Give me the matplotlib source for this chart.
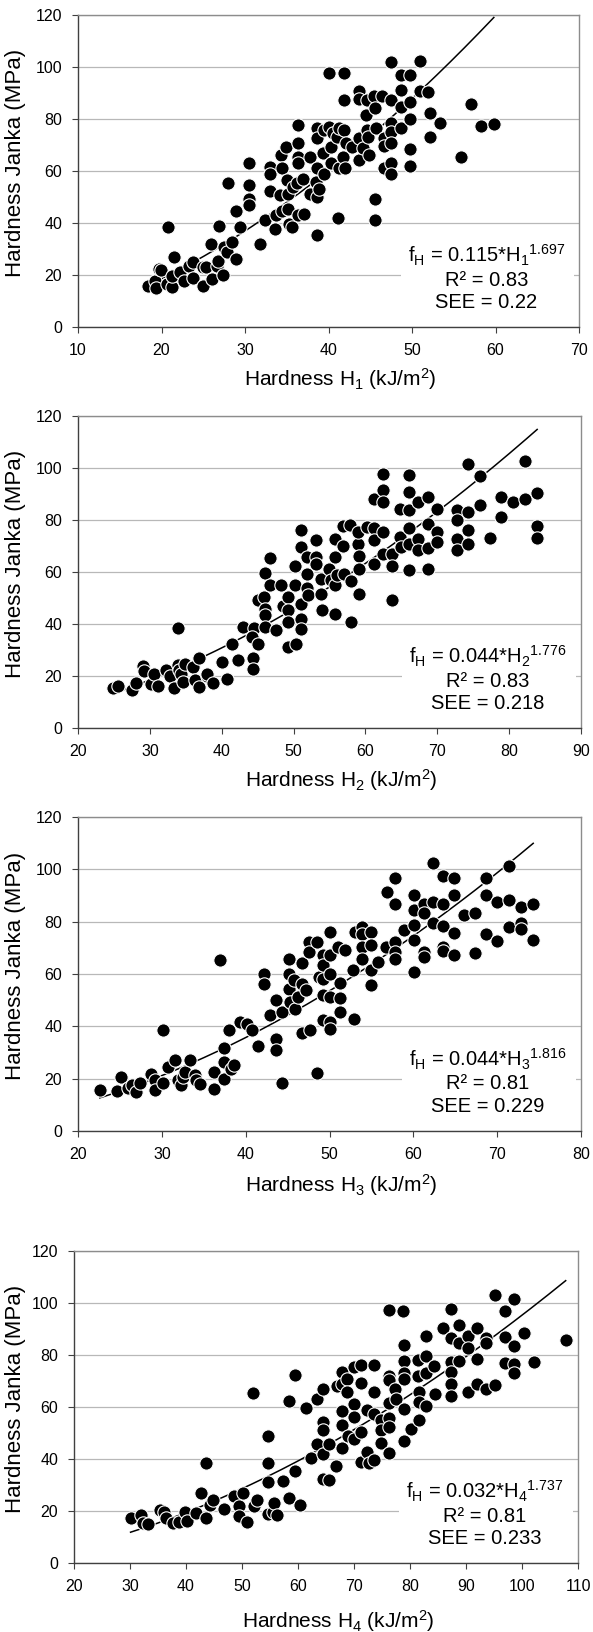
import numpy as np
import matplotlib.pyplot as plt
from matplotlib.patches import Rectangle

plt.rcParams['font.family'] = ['Liberation Sans', 'DejaVu Sans']
plt.rcParams['mathtext.fontset'] = 'custom'
plt.rcParams['mathtext.rm'] = 'Liberation Sans'
plt.rcParams['mathtext.it'] = 'Liberation Sans:italic'

# --- data ---
h1 = [18.4, 19.2, 19.7, 19.4, 19.9, 20.6, 20.8, 21.3, 21.5, 21.3, 22.2, 22.7, 23.3, 23.8, 23.8,
      25.0, 25.0, 25.3, 25.9, 26.0, 26.7, 26.8, 26.9, 27.4, 27.5, 27.8, 28.0, 28.4, 28.9, 28.9,
      29.4, 30.5, 30.5, 30.5, 30.5, 31.8, 32.4, 33.0, 33.0, 33.0, 33.6, 33.7, 34.2, 34.3, 34.4,
      34.4, 34.9, 35.0, 35.1, 35.1, 35.3, 35.6, 35.8, 36.2, 36.4, 36.4, 36.4, 36.4, 36.4, 36.9,
      37.1, 37.8, 37.8, 38.5, 38.6, 38.6, 38.6, 38.6, 38.6, 38.9, 39.4, 39.5, 39.5, 40.1, 40.1,
      40.3, 40.3, 40.5, 41.0, 41.1, 41.2, 41.2, 41.7, 41.9, 41.9, 41.9, 42.0, 42.1, 42.8, 43.7,
      43.7, 43.7, 43.7, 44.1, 44.5, 44.6, 44.6, 44.7, 44.8, 45.5, 45.6, 45.6, 45.6, 45.7, 46.4,
      46.6, 46.6, 46.6, 47.5, 47.5, 47.5, 47.5, 47.5, 47.5, 47.5, 48.7, 48.7, 48.7, 48.7, 49.8,
      49.8, 49.8, 49.8, 49.8, 50.9, 50.9, 51.9, 52.1, 52.1, 53.3, 55.9, 57.1, 58.3, 59.8]
j1 = [15.9, 17.8, 22.3, 15.0, 22.0, 16.5, 38.4, 15.2, 26.8, 19.7, 21.0, 17.8, 23.6, 24.9, 19.0,
      22.9, 15.9, 22.9, 32.0, 18.4, 23.6, 25.5, 38.7, 20.1, 30.7, 28.7, 55.2, 32.6, 26.2, 44.6,
      38.4, 62.9, 54.8, 49.4, 46.8, 32.0, 41.0, 61.6, 59.0, 52.3, 37.8, 42.9, 50.6, 66.1, 61.0,
      44.8, 69.3, 56.4, 51.3, 45.5, 39.7, 38.4, 53.9, 55.2, 77.7, 70.6, 65.5, 62.9, 42.9, 57.1,
      43.6, 65.5, 51.3, 55.8, 76.4, 72.6, 61.0, 50.0, 35.2, 53.2, 66.8, 59.0, 75.8, 97.7, 77.1,
      69.3, 62.9, 74.5, 73.2, 42.0, 76.4, 61.0, 65.5, 97.7, 87.4, 75.8, 61.0, 70.6, 69.3, 90.6,
      87.6, 72.6, 64.4, 68.7, 81.6, 87.4, 75.8, 73.2, 66.1, 88.9, 84.1, 49.4, 41.0, 76.4, 88.7,
      72.6, 69.6, 61.2, 101.8, 87.4, 78.4, 75.1, 70.9, 62.9, 59.0, 97.0, 91.2, 84.8, 76.4, 97.0,
      86.7, 79.9, 68.3, 61.9, 102.4, 90.6, 90.2, 82.2, 73.2, 78.4, 65.5, 85.8, 77.3, 78.1]

h2 = [24.9, 25.5, 27.5, 28.1, 29.1, 29.2, 30.1, 30.6, 31.2, 32.2, 32.8, 33.3, 33.9, 33.9, 34.1,
      34.3, 34.6, 34.9, 36.0, 36.3, 36.9, 36.9, 38.0, 38.0, 38.8, 40.1, 40.7, 41.5, 42.2, 42.9,
      44.4, 44.4, 44.5, 44.2, 45.1, 45.1, 45.9, 46.0, 46.0, 46.0, 46.0, 46.7, 46.7, 47.5, 48.3,
      48.5, 49.2, 49.2, 49.2, 49.2, 50.2, 50.2, 50.3, 51.0, 51.0, 51.0, 51.0, 51.0, 51.8, 51.8,
      51.8, 52.0, 53.1, 53.1, 53.1, 53.8, 53.8, 53.9, 54.9, 55.2, 55.8, 55.8, 55.8, 55.8, 56.1,
      56.9, 56.9, 57.0, 57.8, 58.0, 58.0, 58.9, 59.0, 59.1, 59.1, 59.1, 60.2, 61.2, 61.2, 61.2,
      61.2, 62.4, 62.4, 62.4, 62.4, 62.4, 63.7, 63.7, 63.7, 64.8, 64.8, 64.9, 66.0, 66.0, 66.0,
      66.0, 66.0, 66.0, 67.3, 67.3, 67.3, 68.7, 68.7, 68.7, 68.7, 69.9, 69.9, 69.9, 72.8, 72.8,
      72.8, 72.8, 74.3, 74.3, 74.3, 74.3, 75.9, 75.9, 77.4, 78.9, 78.9, 80.5, 82.2, 82.2, 83.9,
      83.9, 83.9]
j2 = [15.5, 16.2, 14.5, 17.3, 23.8, 21.9, 17.1, 20.6, 16.2, 22.2, 19.9, 15.5, 38.5, 24.1, 22.2,
      20.6, 17.7, 24.7, 23.5, 18.6, 27.1, 15.8, 19.9, 20.9, 17.3, 25.4, 19.0, 32.2, 26.3, 38.8,
      27.1, 22.8, 38.5, 35.0, 49.1, 32.2, 50.4, 59.7, 45.9, 43.3, 38.8, 65.5, 54.9, 37.6, 54.9,
      46.8, 50.4, 45.3, 40.8, 31.2, 54.9, 62.2, 32.2, 76.0, 69.6, 47.8, 42.1, 38.2, 65.8, 59.4,
      54.0, 51.0, 72.4, 65.8, 63.2, 57.4, 51.7, 45.3, 61.3, 56.8, 72.8, 65.8, 54.9, 43.7, 58.7,
      77.6, 69.9, 59.4, 77.9, 56.4, 40.8, 70.9, 75.4, 66.0, 61.3, 51.7, 77.3, 88.2, 77.1, 72.2,
      63.2, 97.6, 91.7, 86.9, 75.4, 67.1, 67.1, 62.3, 49.1, 84.4, 73.5, 69.6, 97.2, 90.8, 83.7,
      76.9, 70.9, 60.6, 86.9, 72.8, 68.3, 88.8, 78.6, 69.4, 61.3, 84.4, 75.4, 71.5, 83.7, 79.9,
      72.8, 68.3, 101.7, 83.1, 76.0, 70.9, 96.8, 85.6, 73.2, 88.8, 81.2, 87.0, 102.6, 88.0, 90.4,
      77.6, 73.1]

h3 = [22.6, 24.6, 25.1, 26.0, 26.4, 26.9, 27.4, 28.7, 29.2, 29.2, 30.1, 30.1, 30.7, 31.6, 31.9,
      32.3, 32.5, 32.8, 33.4, 33.9, 34.1, 34.6, 36.2, 36.2, 36.9, 37.4, 37.4, 37.4, 38.0, 38.2,
      38.6, 39.3, 40.2, 40.8, 41.5, 42.2, 42.2, 42.9, 43.6, 43.6, 43.6, 44.3, 44.3, 45.2, 45.2,
      45.2, 45.3, 45.8, 45.9, 46.3, 46.7, 46.7, 46.7, 47.2, 47.6, 47.6, 47.7, 48.5, 48.5, 48.8,
      49.2, 49.2, 49.2, 49.2, 49.2, 50.1, 50.1, 50.1, 50.1, 50.1, 50.1, 51.0, 51.2, 51.2, 51.2,
      51.9, 52.8, 52.9, 53.1, 53.9, 53.9, 53.9, 53.9, 54.9, 54.9, 54.9, 54.9, 55.8, 56.7, 56.8,
      57.8, 57.8, 57.8, 57.8, 57.8, 58.9, 60.1, 60.1, 60.1, 60.1, 60.1, 61.3, 61.3, 61.3, 61.3,
      62.4, 62.4, 62.4, 63.5, 63.5, 63.5, 63.5, 63.5, 64.8, 64.8, 64.8, 64.8, 66.1, 67.4, 67.4,
      68.7, 68.7, 68.7, 70.0, 70.0, 71.4, 71.4, 71.4, 72.8, 72.8, 72.8, 74.3, 74.3]
j3 = [15.5, 15.3, 20.6, 16.6, 17.5, 14.9, 18.3, 21.9, 19.4, 15.8, 18.3, 38.5, 24.5, 27.0, 19.6,
      17.5, 20.6, 22.5, 27.0, 21.3, 19.4, 17.8, 22.5, 16.2, 65.2, 31.8, 26.4, 20.0, 38.5, 23.8,
      25.1, 41.7, 40.8, 38.5, 32.4, 59.9, 56.3, 44.2, 50.2, 35.3, 30.8, 45.5, 18.3, 65.9, 60.1,
      54.4, 49.3, 57.6, 46.8, 51.2, 64.2, 56.3, 37.5, 53.8, 72.2, 68.4, 38.5, 72.2, 22.2, 58.9,
      67.1, 63.3, 58.2, 51.8, 42.3, 76.1, 67.1, 60.1, 51.2, 41.7, 39.1, 70.3, 56.6, 51.0, 45.5,
      69.0, 61.4, 42.9, 76.1, 78.0, 75.4, 70.3, 65.9, 76.1, 71.0, 61.4, 55.7, 64.6, 70.3, 91.3,
      96.8, 86.9, 72.2, 68.4, 65.9, 76.7, 90.1, 84.3, 78.6, 72.9, 60.8, 86.9, 83.3, 68.4, 66.5,
      102.4, 87.5, 79.5, 97.3, 86.9, 78.2, 70.3, 68.7, 96.8, 90.1, 75.7, 67.1, 82.4, 83.3, 68.0,
      96.8, 90.1, 75.2, 87.5, 72.6, 101.1, 88.4, 78.0, 85.6, 79.5, 77.3, 86.6, 73.1]

h4 = [30.1, 32.0, 32.4, 33.2, 35.4, 36.0, 36.4, 37.7, 38.7, 39.8, 40.1, 41.8, 42.7, 43.5, 43.5,
      44.2, 44.8, 46.7, 48.6, 49.4, 49.4, 50.2, 50.9, 51.9, 52.1, 52.6, 54.6, 54.6, 54.6, 54.6,
      55.5, 55.7, 56.3, 57.3, 58.4, 58.4, 59.5, 59.5, 60.4, 61.4, 62.4, 63.4, 63.4, 64.5, 64.5,
      64.5, 64.5, 64.5, 65.5, 65.6, 66.7, 66.9, 67.8, 67.8, 67.8, 67.8, 67.8, 68.8, 68.8, 69.0,
      70.0, 70.0, 70.0, 70.0, 71.2, 71.2, 71.2, 71.2, 72.4, 72.4, 72.6, 73.6, 73.6, 73.6, 73.6,
      74.9, 74.9, 74.9, 76.2, 76.2, 76.2, 76.2, 76.2, 76.2, 76.2, 77.3, 77.5, 78.7, 78.9, 78.9,
      78.9, 78.9, 78.9, 78.9, 80.2, 81.4, 81.4, 81.6, 81.6, 81.6, 82.9, 82.9, 82.9, 82.9, 84.3,
      84.4, 85.9, 87.3, 87.3, 87.3, 87.3, 87.3, 87.3, 88.8, 88.8, 88.8, 90.4, 90.4, 90.4, 92.0,
      92.0, 92.0, 93.5, 93.5, 93.5, 95.1, 95.1, 96.9, 96.9, 96.9, 98.5, 98.5, 98.5, 98.5, 100.3,
      102.1, 107.8]
j4 = [17.3, 18.6, 15.4, 15.0, 20.5, 19.5, 17.3, 15.4, 15.7, 19.5, 16.0, 19.3, 27.0, 38.3, 17.3,
      22.5, 24.1, 20.8, 25.9, 21.8, 18.2, 27.0, 15.7, 65.5, 22.1, 24.4, 49.0, 38.5, 31.1, 19.0,
      19.5, 23.1, 18.6, 31.4, 62.3, 25.0, 72.5, 35.3, 22.5, 59.7, 40.4, 62.9, 45.6, 67.0, 54.2,
      51.0, 42.1, 32.3, 45.6, 31.8, 37.5, 68.0, 73.4, 68.7, 58.4, 52.9, 44.3, 70.6, 65.7, 48.8,
      75.3, 61.0, 56.2, 47.8, 76.0, 69.3, 50.3, 38.8, 59.0, 42.6, 38.3, 76.0, 65.7, 57.5, 39.5,
      54.9, 51.1, 46.2, 97.3, 72.1, 70.3, 61.6, 55.8, 52.4, 42.4, 66.8, 63.2, 96.9, 83.7, 77.7,
      73.2, 70.9, 59.3, 46.9, 51.6, 78.0, 72.1, 65.7, 61.9, 54.9, 87.5, 79.6, 73.2, 60.3, 75.7,
      65.0, 90.4, 97.8, 86.6, 77.3, 73.4, 68.7, 64.4, 91.4, 84.7, 77.7, 87.3, 82.8, 65.7, 90.5,
      78.6, 68.7, 86.6, 84.7, 66.8, 103.0, 68.3, 96.9, 87.0, 77.0, 101.7, 83.4, 76.4, 73.2, 88.6,
      77.3, 85.8]

xs = [h1, h2, h3, h4]
ys = [j1, j2, j3, j4]
index = ['1', '2', '3', '4']
coef_a = ['0.115', '0.044', '0.044', '0.032']
coef_b = ['1.697', '1.776', '1.816', '1.737']
r2 = ['0.83', '0.83', '0.81', '0.81']
see = ['0.22', '0.218', '0.229', '0.233']
x_min = [10, 20, 20, 20]
x_max = [70, 90, 80, 110]

# --- layout (pixels of the 593x1632 figure) ---
W, H = 593, 1632
boxes = [(78, 579, 15, 327), (78, 581, 416, 728), (78, 581, 817, 1131), (74, 578, 1251, 1563)]
xlab_y = [-0.189, -0.189, -0.194, -0.208]

fig = plt.figure(figsize=(W / 100, H / 100), dpi=100)

for i in range(4):
    l, r, t, b = boxes[i]
    ax = fig.add_axes([l / W, 1 - b / H, (r - l) / W, (b - t) / H])
    x = np.array(xs[i])
    y = np.array(ys[i])

    ax.set_xlim(x_min[i], x_max[i])
    ax.set_ylim(0, 120)
    ax.set_xticks(np.arange(x_min[i], x_max[i] + 1, 10))
    ax.set_yticks(np.arange(0, 121, 20))
    ax.set_axisbelow(True)
    ax.grid(axis='y', color='#b8b8b8', lw=0.9)

    for s in ['left', 'bottom']:
        ax.spines[s].set_color('#404040')
        ax.spines[s].set_linewidth(1.0)
    for s in ['right', 'top']:
        ax.spines[s].set_color('#8c8c8c')
        ax.spines[s].set_linewidth(1.0)
    ax.tick_params(direction='out', length=4.5, width=0.8, color='#404040',
                   labelsize=11.5, pad=7)

    # white box behind the equation
    ax.add_patch(Rectangle((0.645, 0.015), 0.345, 0.285, transform=ax.transAxes,
                           facecolor='white', edgecolor='none', zorder=1))

    # fitted power curve
    a = float(coef_a[i])
    bexp = float(coef_b[i])
    xx = np.linspace(x.min(), x.max(), 200)
    ax.plot(xx, a * xx ** bexp, color='black', lw=1.1, zorder=2)

    ax.scatter(x, y, s=92, c='black', edgecolors='white', linewidths=0.8, zorder=3,
               clip_on=False)

    k = index[i]
    ax.text(0.815, 0.206,
            'f$_\\mathregular{H}$ = ' + coef_a[i] + '*H$_\\mathregular{' + k + '}$'
            + '$^\\mathregular{' + coef_b[i] + '}$',
            transform=ax.transAxes, ha='center', va='baseline', fontsize=14.5, zorder=4)
    ax.text(0.815, 0.133, 'R² = ' + r2[i], transform=ax.transAxes,
            ha='center', va='baseline', fontsize=14.5, zorder=4)
    ax.text(0.815, 0.060, 'SEE = ' + see[i], transform=ax.transAxes,
            ha='center', va='baseline', fontsize=14.5, zorder=4)

    ax.set_xlabel('Hardness H$_\\mathregular{' + k + '}$ (kJ/m$^\\mathregular{2}$)',
                  fontsize=15)
    ax.xaxis.label.set_va('baseline')
    ax.xaxis.set_label_coords(0.524, xlab_y[i])

    ax.set_ylabel('Hardness Janka (MPa)', fontsize=16)
    ax.yaxis.label.set_va('center')
    ax.yaxis.set_label_coords((16 - l) / (r - l), 0.526)

fig.savefig('out.png', dpi=100)
